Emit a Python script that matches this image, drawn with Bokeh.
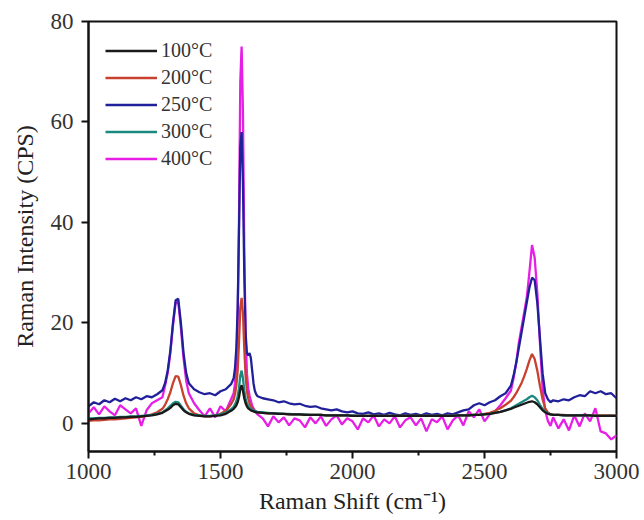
from bokeh.plotting import figure
from bokeh.models import Range1d, FixedTicker, Legend, LegendItem
from bokeh.embed import file_html
from bokeh.resources import INLINE

# Raman shift sample positions (cm^-1)
shift = [
    1000, 1020, 1040, 1060, 1080, 1100, 1120, 1140, 1160, 1180, 1200, 1220, 1240, 1260, 1280,
    1290, 1300, 1310, 1320, 1330, 1340, 1350, 1360, 1370, 1380,
    1400, 1420, 1440, 1460, 1480, 1500, 1520, 1540,
    1550, 1555, 1560, 1565, 1570, 1575, 1580, 1585, 1590, 1595, 1600, 1605, 1610, 1615, 1620, 1625, 1630, 1635, 1640,
    1660, 1680, 1700, 1720, 1740, 1760, 1780, 1800, 1820, 1840, 1860, 1880, 1900, 1920, 1940, 1960,
    1980, 2000, 2020, 2040, 2060, 2080, 2100, 2120, 2140, 2160, 2180, 2200, 2220, 2240, 2260, 2280,
    2300, 2320, 2340, 2360, 2380, 2400, 2420, 2440, 2460, 2480, 2500, 2520, 2540, 2560, 2580,
    2600, 2610, 2620, 2630, 2640, 2650, 2660, 2670, 2680, 2690, 2700, 2710, 2720, 2730, 2740, 2750, 2760,
    2780, 2800, 2820, 2840, 2860, 2880, 2900, 2920, 2940, 2960, 2980, 3000,
]

s100 = [
    0.8, 0.9, 1.0, 1.0, 1.1, 1.1, 1.2, 1.2, 1.3, 1.3, 1.4, 1.5, 1.6, 1.8, 2.1,
    2.4, 2.7, 3.1, 3.6, 3.9, 3.8, 3.2, 2.6, 2.2, 1.9,
    1.6, 1.5, 1.4, 1.4, 1.5, 1.6, 1.9, 2.5,
    2.9, 3.2, 3.6, 4.2, 5.2, 6.8, 7.6, 6.5, 5.0, 4.0, 3.4, 3.0, 2.8, 2.6, 2.5, 2.4, 2.3, 2.2, 2.2,
    2.1, 2.0, 2.0, 1.9, 1.9, 1.8, 1.8, 1.8, 1.7, 1.7, 1.7, 1.7, 1.6, 1.6, 1.6, 1.6,
    1.6, 1.5, 1.5, 1.5, 1.5, 1.5, 1.5, 1.5, 1.5, 1.5, 1.5, 1.5, 1.5, 1.5, 1.5, 1.5,
    1.5, 1.5, 1.5, 1.5, 1.5, 1.6, 1.6, 1.6, 1.7, 1.7, 1.8, 1.9, 2.1, 2.3, 2.6,
    2.9, 3.1, 3.3, 3.5, 3.7, 3.9, 4.1, 4.3, 4.4, 4.2, 3.8, 3.2, 2.6, 2.2, 1.9, 1.8, 1.7,
    1.7, 1.6, 1.6, 1.6, 1.6, 1.6, 1.6, 1.5, 1.5, 1.5, 1.5, 1.5,
]

s200 = [
    0.5, 0.6, 0.6, 0.7, 0.8, 0.8, 0.9, 1.0, 1.1, 1.2, 1.3, 1.5, 1.8, 2.2, 2.9,
    3.7, 4.8, 6.2, 8.0, 9.4, 9.3, 7.6, 5.5, 4.0, 3.0,
    2.0, 1.6, 1.4, 1.4, 1.6, 1.9, 2.5, 3.8,
    4.8, 5.8, 7.5, 10.5, 16.0, 23.0, 25.0, 22.0, 15.0, 9.5, 6.5, 5.0, 4.0, 3.4, 3.0, 2.7, 2.5, 2.3, 2.2,
    2.1, 2.0, 2.0, 1.9, 1.9, 1.8, 1.8, 1.8, 1.7, 1.7, 1.7, 1.7, 1.6, 1.6, 1.6, 1.6,
    1.6, 1.5, 1.5, 1.5, 1.5, 1.5, 1.5, 1.5, 1.5, 1.5, 1.5, 1.5, 1.5, 1.5, 1.5, 1.5,
    1.5, 1.5, 1.5, 1.5, 1.5, 1.6, 1.6, 1.6, 1.7, 1.7, 1.9, 2.1, 2.5, 3.0, 3.7,
    4.5, 5.2, 6.0, 7.0, 8.0, 9.3, 10.8, 12.5, 13.8, 12.8, 10.5, 7.5, 4.8, 3.0, 2.2, 1.8, 1.7,
    1.7, 1.7, 1.6, 1.6, 1.6, 1.6, 1.6, 1.6, 1.6, 1.6, 1.6, 1.6,
]

s250 = [
    3.4, 4.2, 3.8, 4.6, 4.2, 4.9, 4.4, 5.0, 4.6, 5.2, 4.8, 5.4, 5.2, 5.8, 6.6,
    8.0, 10.5, 14.5, 20.0, 24.5, 24.8, 20.0, 14.0, 10.0, 8.0,
    6.8, 6.2, 5.8, 6.0, 5.6, 6.4, 6.8, 7.8,
    9.0, 11.0, 15.0, 23.0, 38.0, 55.0, 58.0, 48.0, 30.0, 18.0, 14.0, 13.5, 14.0, 13.0, 10.5, 8.0, 6.5, 5.8, 5.4,
    5.0, 4.8, 4.6, 4.2, 4.4, 4.0, 3.8, 3.9, 3.5, 3.3, 3.4, 3.0, 2.8, 2.6, 2.8, 2.4,
    2.2, 2.4, 2.0, 1.9, 2.2, 1.8, 2.0, 1.7, 2.1, 1.8, 1.6, 2.0, 1.7, 1.9, 1.6, 2.0,
    1.7, 1.9, 1.6, 2.0, 1.8, 2.2, 2.6, 2.8, 3.6, 4.0, 3.6, 4.2, 4.6, 5.4, 6.0,
    7.5, 9.5, 12.0, 15.0, 18.0, 21.0, 24.0, 27.0, 29.0, 28.5, 24.0, 17.0, 10.0, 6.0, 4.8, 4.2, 4.6,
    4.4, 4.8, 4.6, 5.2, 5.6, 5.4, 6.4, 6.0, 6.4, 5.8, 6.0, 5.0,
]

s300 = [
    1.0, 1.0, 1.1, 1.1, 1.2, 1.2, 1.3, 1.3, 1.4, 1.4, 1.5, 1.6, 1.7, 1.9, 2.2,
    2.6, 3.0, 3.5, 4.0, 4.3, 4.2, 3.5, 2.8, 2.3, 2.0,
    1.7, 1.6, 1.5, 1.5, 1.6, 1.8, 2.1, 2.8,
    3.3, 3.8, 4.4, 5.4, 7.0, 9.5, 10.5, 9.0, 6.5, 5.0, 4.0, 3.5, 3.1, 2.9, 2.7, 2.6, 2.5, 2.4, 2.3,
    2.2, 2.1, 2.0, 2.0, 1.9, 1.9, 1.8, 1.8, 1.8, 1.7, 1.7, 1.7, 1.6, 1.6, 1.6, 1.6,
    1.6, 1.6, 1.5, 1.5, 1.5, 1.5, 1.5, 1.5, 1.5, 1.5, 1.5, 1.5, 1.5, 1.5, 1.5, 1.5,
    1.5, 1.5, 1.5, 1.5, 1.5, 1.6, 1.6, 1.6, 1.7, 1.7, 1.8, 1.9, 2.1, 2.3, 2.6,
    3.0, 3.3, 3.6, 3.9, 4.2, 4.5, 4.8, 5.2, 5.5, 5.2, 4.6, 3.7, 2.9, 2.3, 2.0, 1.8, 1.7,
    1.7, 1.6, 1.6, 1.6, 1.6, 1.6, 1.6, 1.5, 1.5, 1.5, 1.5, 1.5,
]

s400 = [
    2.0, 3.2, 1.8, 3.4, 2.4, 1.6, 3.6, 2.8, 2.0, 3.0, -0.5, 2.6, 4.0, 4.6, 5.2,
    7.5, 10.0, 14.0, 19.5, 24.0, 24.2, 19.0, 13.0, 8.5, 6.0,
    4.0, 2.6, 1.4, 3.0, 1.2, 3.4, 2.4, 4.8,
    6.0, 8.0, 12.0, 20.0, 40.0, 68.0, 75.0, 62.0, 35.0, 18.0, 10.0, 7.0, 5.5, 4.5, 3.5, 3.0, 2.5, 2.2, 1.8,
    1.0, -0.6, 1.4, 0.2, 1.2, -0.4, 1.0, 0.6, -0.8, 1.2, 0.0, 1.4, -0.5, 0.8, 1.6, -0.2,
    1.0, 0.4, -1.2, 1.0, 0.2, 1.6, -0.6, 0.8, 0.0, 1.4, -0.8, 0.6, 1.2, -0.4, 1.0, -1.6,
    0.8, 0.2, 1.4, -1.2, 0.6, 1.6, -0.4, 2.4, 1.2, 2.8, 0.4, 1.8, 2.4, 3.6, 5.0,
    6.5, 9.0, 12.0, 16.0, 19.0, 22.0, 25.0, 30.0, 35.5, 33.0, 26.0, 16.0, 7.0, 2.5, 0.5, -0.5, 1.2,
    -1.0, 0.8, -1.4, 1.6, -0.6, 2.0, 0.4, 3.0, -1.6, -2.0, -3.2, -2.4,
]

labels = ["100°C", "200°C", "250°C", "300°C", "400°C"]
colors = ["#1a1a1a", "#c8402e", "#20209a", "#1a8a80", "#e61ee6"]
x_ticks = [1000, 1500, 2000, 2500, 3000]
x_minor = [1250, 1750, 2250, 2750]
y_ticks = [0, 20, 40, 60, 80]

FONT = "Liberation Serif"

p = figure(width=644, height=520, output_backend="svg", toolbar_location=None,
           x_range=Range1d(1000, 3000), y_range=Range1d(-5.6, 80))
p.min_border_left = 88
p.min_border_right = 28
p.min_border_top = 21
p.min_border_bottom = 69
p.background_fill_color = "white"
p.border_fill_color = "white"
p.outline_line_color = "#111111"
p.outline_line_width = 2
p.grid.visible = False

series = [s100, s200, s250, s300, s400]
renderers = [None] * 5
for i in [4, 2, 1, 3, 0]:
    renderers[i] = p.line(shift, series[i], line_color=colors[i], line_width=2.3)

items = [LegendItem(label=labels[i], renderers=[renderers[i]]) for i in range(5)]
legend = Legend(items=items, location="top_left")
legend.border_line_color = None
legend.background_fill_alpha = 0
legend.label_text_font = FONT
legend.label_text_font_size = "20px"
legend.label_text_color = "#333333"
legend.glyph_width = 52
legend.glyph_height = 25
legend.label_height = 25
legend.spacing = 2
legend.label_standoff = 4
legend.margin = 17
legend.padding = 8
p.add_layout(legend)

for ax in (p.xaxis[0], p.yaxis[0]):
    ax.axis_line_width = 2
    ax.axis_line_color = "#111111"
    ax.major_tick_line_width = 2
    ax.major_tick_line_color = "#111111"
    ax.minor_tick_line_width = 2
    ax.minor_tick_line_color = "#111111"
    ax.major_tick_in = 0
    ax.major_tick_out = 7
    ax.minor_tick_in = 0
    ax.minor_tick_out = 4
    ax.major_label_text_font = FONT
    ax.major_label_text_font_size = "23px"
    ax.major_label_text_color = "#333333"
    ax.axis_label_text_font = FONT
    ax.axis_label_text_font_size = "24px"
    ax.axis_label_text_font_style = "normal"
    ax.axis_label_text_color = "#222222"

p.xaxis[0].ticker = FixedTicker(ticks=x_ticks, minor_ticks=x_minor)
p.yaxis[0].ticker = FixedTicker(ticks=y_ticks, minor_ticks=[])
p.xaxis[0].axis_label = "Raman Shift (cm⁻¹)"
p.yaxis[0].axis_label = "Raman Intensity (CPS)"
p.xaxis[0].major_label_standoff = 5
p.yaxis[0].major_label_standoff = 8
p.xaxis[0].axis_label_standoff = 6
p.yaxis[0].axis_label_standoff = 10

open("out.html", "w").write(file_html(p, INLINE))
